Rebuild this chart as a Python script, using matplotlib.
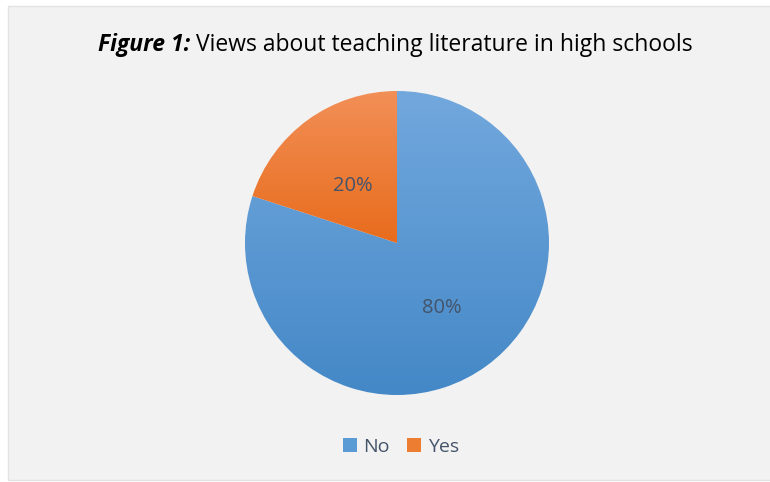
import numpy as np
import matplotlib.pyplot as plt
import matplotlib.transforms as mtransforms
from matplotlib.patches import Rectangle
from matplotlib.colors import LinearSegmentedColormap

labels = ['No', 'Yes']
values = [80, 20]
top_colors = ['#72a8dd', '#f28f57']
bottom_colors = ['#4488c7', '#e86c1c']
title_bold = 'Figure 1:'
title_rest = ' Views about teaching literature in high schools'

plt.rcParams['font.family'] = ['Open Sans', 'DejaVu Sans']

fig = plt.figure(figsize=(7.7, 4.82), dpi=100)
fig.patch.set_facecolor('white')
# chart panel
panel = Rectangle((8 / 770, 2 / 482), 1, 474 / 482, transform=fig.transFigure,
                  facecolor='#f2f2f2', edgecolor='#e3e3e3', lw=1, zorder=-10)
fig.add_artist(panel)

ax = fig.add_axes([245 / 770, 87 / 482, 304 / 770, 304 / 482])
ax.set_facecolor('none')
ax.set_zorder(1)
wedges, _, autotexts = ax.pie(values, startangle=90, counterclock=False, radius=1,
                              autopct='%1.0f%%', pctdistance=0.5,
                              wedgeprops=dict(linewidth=0.6, edgecolor='#f2f2f2'),
                              textprops=dict(color='#44546a', fontsize=14.5))
ax.set_aspect('equal')
ax.axis('off')

# vertical gradient fill for each slice
for w, c_top, c_bot in zip(wedges, top_colors, bottom_colors):
    w.set_facecolor('none')
    ext = w.get_path().get_extents()
    cmap = LinearSegmentedColormap.from_list('g', [c_bot, c_top])
    grad = np.linspace(0, 1, 256).reshape(-1, 1)
    im = ax.imshow(grad, cmap=cmap, origin='lower', aspect='auto',
                   extent=(-1, 1, max(ext.y0, -1), min(ext.y1, 1)), zorder=1)
    im.set_clip_path(w)
shift = mtransforms.ScaledTranslation(0, -4 / 100, fig.dpi_scale_trans)
for t in autotexts:
    t.set_zorder(5)
    t.set_transform(t.get_transform() + shift)
ax.set_xlim(-1, 1)
ax.set_ylim(-1, 1)

# two-part title
fig.canvas.draw()
r = fig.canvas.get_renderer()
t1 = fig.text(0, 1 - 45 / 482, title_bold, fontsize=16.5, fontweight='bold', style='italic',
              va='center', ha='left', color='black')
t2 = fig.text(0, 1 - 45 / 482, title_rest, fontsize=16.5, va='center', ha='left', color='black')
w1 = t1.get_window_extent(r).width
w2 = t2.get_window_extent(r).width
x0 = 395 - (w1 + w2) / 2
t1.set_x(x0 / 770)
t2.set_x((x0 + w1) / 770)

handles = [Rectangle((0, 0), 1, 1, facecolor=c) for c in ['#5b9bd5', '#ed7d31']]
fig.legend(handles, labels, loc='center', bbox_to_anchor=(401 / 770, 1 - 447 / 482),
           ncol=2, frameon=False, fontsize=14, handlelength=0.7, handleheight=0.7,
           handletextpad=0.35, columnspacing=0.9, labelcolor='#44546a')

fig.savefig('out.png', dpi=100, facecolor=fig.get_facecolor())
